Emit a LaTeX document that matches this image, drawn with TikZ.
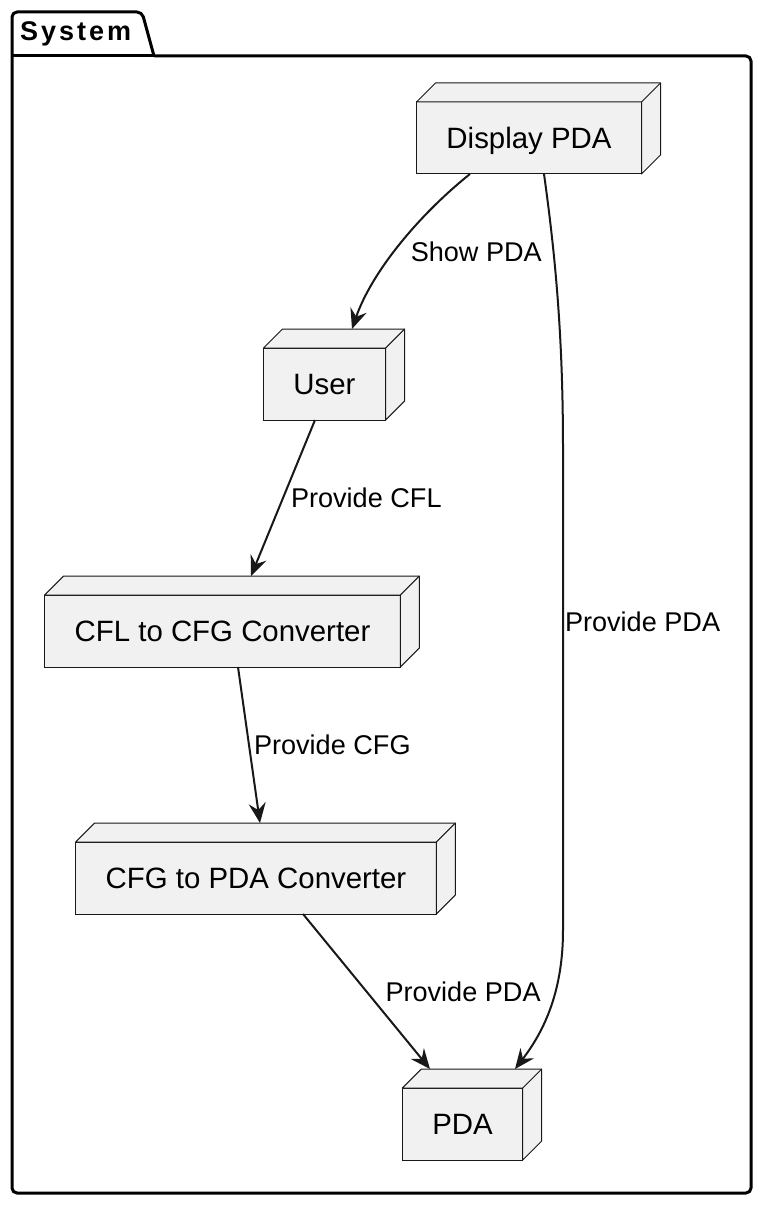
\documentclass[tikz,border=0pt]{standalone}
\usepackage{fontspec}
\setmainfont{Liberation Sans}
\newfontfamily\pkgfont[LetterSpace=11]{Liberation Sans}
\usetikzlibrary{arrows.meta}
\definecolor{boxfill}{HTML}{F1F1F1}
\definecolor{boxline}{HTML}{181818}
\definecolor{flowline}{HTML}{181818}
\tikzset{
    devbox/.style={draw=boxline, fill=boxfill, line width=1pt, outer sep=0pt,
        minimum height=72pt, inner xsep=30pt, inner ysep=0pt,
        text height=21pt, text depth=0pt, font=\fontsize{29.4}{35}\selectfont},
    devside/.style={draw=boxline, fill=boxfill, line width=1pt, line join=round},
    flow/.style={-{Stealth[length=20pt, width=17pt, inset=7pt]}, draw=flowline, line width=2pt},
    flowlabel/.style={anchor=west, inner sep=0pt, text height=19.4pt, text depth=0pt,
        font=\fontsize{27.1}{33}\selectfont},
    pkgline/.style={draw=black, line width=3pt, line join=round}
}

\begin{document}
\begin{tikzpicture}[x=1pt, y=-1pt]
\useasboundingbox (0,0) rectangle (766,1206);
% package frame
\draw[pkgline, rounded corners=5pt] (154,56) -- (751,56) -- (751,1193) -- (12,1193) -- (12,12) -- (142,12) -- (154,56);
\draw[pkgline] (12,56) -- (154,56);
\node[anchor=base west, inner sep=0pt, font=\pkgfont\bfseries\fontsize{27}{31}\selectfont] (pkgtitle) at (20,41) {System};

% nodes
\node[devbox] (display) at (529,138) {Display PDA};
\node[devbox] (user) at (324.5,384) {User};
\node[devbox] (cfl) at (222.5,631) {CFL to CFG Converter};
\node[devbox] (cfg) at (256,878) {CFG to PDA Converter};
\node[devbox] (pda) at (462.5,1124) {PDA};
\foreach \n in {display,user,cfl,cfg,pda}{
  \draw[devside] (\n.north west) -- ++(19,-19) -- ([shift={(19,-19)}]\n.north east)
    -- ([shift={(19,-19)}]\n.south east) -- (\n.south east) -- (\n.north east) -- cycle;
  \draw[devside] (\n.north east) -- ++(19,-19);
}

% flows
\draw[flow] ([xshift=-59pt]display.south) .. controls +(-50,40) and +(20,-58) .. ([xshift=27.5pt,yshift=19pt]user.north)
  node[flowlabel, pos=0.5, xshift=10pt, yshift=-7pt] (lblshow) {Show PDA};
\draw[flow] ([xshift=15pt]display.south) .. controls (556,260) and (563,340) .. (563,450)
  -- node[flowlabel, pos=0.358, xshift=1pt] (lblright) {Provide PDA} (563,930)
  .. controls (563,990) and (545,1030) .. ([xshift=52.5pt,yshift=19pt]pda.north);
\draw[flow] ([xshift=-9.5pt]user.south) -- node[flowlabel, xshift=7pt] (lblcfl) {Provide CFL} ([xshift=28.5pt,yshift=19pt]cfl.north);
\draw[flow] ([xshift=15.5pt]cfl.south) -- node[flowlabel, xshift=4pt] (lblcfg) {Provide CFG} ([xshift=4pt,yshift=19pt]cfg.north);
\draw[flow] ([xshift=47pt]cfg.south) -- node[flowlabel, xshift=18pt] (lblleft) {Provide PDA} ([xshift=-32.5pt,yshift=19pt]pda.north);
\end{tikzpicture}
\end{document}
